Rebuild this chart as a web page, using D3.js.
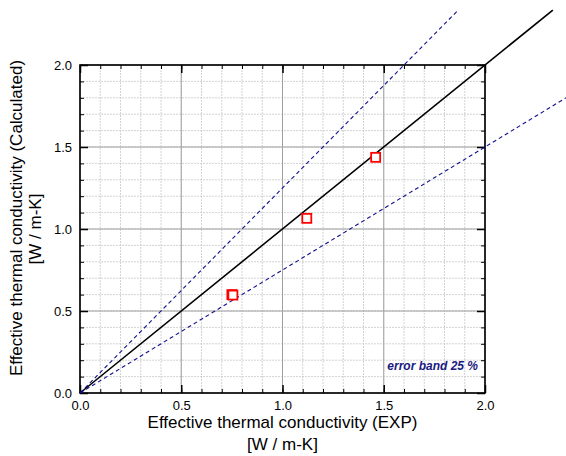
<!DOCTYPE html>
<html>
<head>
<meta charset="utf-8">
<script src="https://cdn.jsdelivr.net/npm/d3@7"></script>
<style>
  body { margin: 0; background: #fff; }
  text { font-family: "Liberation Sans", Arial, sans-serif; }
</style>
</head>
<body>
<div id="chart"></div>
<script>
// measured points (EXP vs calculated)
const expValues = [0.75, 0.755, 1.12, 1.46];
const calcValues = [0.60, 0.597, 1.065, 1.437];
const majorTicks = [0, 0.5, 1.0, 1.5, 2.0];
const parityLines = [
  { slope: 1.0, xEnd: 2.335, dashed: false },
  { slope: 1.25, xEnd: 1.868, dashed: true },
  { slope: 0.75, xEnd: 3.11, dashed: true },
];

const width = 566;
const height = 456;
const margin = { left: 80, right: 81, top: 65, bottom: 63 };
const plotW = width - margin.left - margin.right;
const plotH = height - margin.top - margin.bottom;

const svg = d3
  .select("#chart")
  .append("svg")
  .attr("width", width)
  .attr("height", height);

const x = d3.scaleLinear().domain([0, 2]).range([margin.left, margin.left + plotW]);
const y = d3.scaleLinear().domain([0, 2]).range([margin.top + plotH, margin.top]);

const minorTicks = d3.range(0, 2.0001, 0.1).map((d) => +d.toFixed(1));

// minor grid
const grid = svg.append("g");
minorTicks.forEach((t) => {
  grid.append("line")
    .attr("x1", x(t)).attr("x2", x(t))
    .attr("y1", y(0)).attr("y2", y(2))
    .attr("stroke", "#c8c8c8").attr("stroke-dasharray", "2,1").attr("stroke-width", 0.8);
  grid.append("line")
    .attr("y1", y(t)).attr("y2", y(t))
    .attr("x1", x(0)).attr("x2", x(2))
    .attr("stroke", "#c8c8c8").attr("stroke-dasharray", "2,1").attr("stroke-width", 0.8);
});
// major grid
majorTicks.forEach((t) => {
  grid.append("line")
    .attr("x1", x(t)).attr("x2", x(t))
    .attr("y1", y(0)).attr("y2", y(2))
    .attr("stroke", "#a0a0a0").attr("stroke-width", 1);
  grid.append("line")
    .attr("y1", y(t)).attr("y2", y(t))
    .attr("x1", x(0)).attr("x2", x(2))
    .attr("stroke", "#a0a0a0").attr("stroke-width", 1);
});

// axes with inward ticks on all four sides
function addAxis(axisFn, scale, transform, labels) {
  const g = svg.append("g").attr("transform", transform);
  g.call(axisFn(scale).tickValues(minorTicks).tickSize(-4).tickFormat(""));
  g.select(".domain").remove();
  g.selectAll(".tick line").attr("stroke-width", 1);
  const g2 = svg.append("g").attr("transform", transform);
  g2.call(
    axisFn(scale).tickValues(majorTicks).tickSize(-8).tickPadding(8)
      .tickFormat(labels ? d3.format(".1f") : "")
  );
  g2.select(".domain").remove();
  g2.selectAll(".tick line").attr("stroke-width", 1.5);
  g2.selectAll("text").attr("font-size", 13).attr("fill", "#000")
    .style("font-family", '"Liberation Sans", Arial, sans-serif');
}
addAxis(d3.axisBottom, x, `translate(0,${y(0)})`, true);
addAxis(d3.axisTop, x, `translate(0,${y(2)})`, false);
addAxis(d3.axisLeft, y, `translate(${x(0)},0)`, true);
addAxis(d3.axisRight, y, `translate(${x(2)},0)`, false);

svg.append("rect")
  .attr("x", x(0)).attr("y", y(2))
  .attr("width", plotW).attr("height", plotH)
  .attr("fill", "none").attr("stroke", "#000").attr("stroke-width", 1.6);

// parity and error band lines
parityLines.forEach((l) => {
  svg.append("line")
    .attr("x1", x(0)).attr("y1", y(0))
    .attr("x2", x(l.xEnd)).attr("y2", y(l.slope * l.xEnd))
    .attr("stroke", l.dashed ? "#10108f" : "#000")
    .attr("stroke-width", l.dashed ? 1.1 : 1.6)
    .attr("stroke-dasharray", l.dashed ? "4,3" : null);
});

// data points
svg.append("g")
  .selectAll("rect")
  .data(expValues.map((d, i) => [d, calcValues[i]]))
  .join("rect")
  .attr("x", (d) => x(d[0]) - 4.5)
  .attr("y", (d) => y(d[1]) - 4.5)
  .attr("width", 9)
  .attr("height", 9)
  .attr("fill", "#fff")
  .attr("stroke", "#ff0000")
  .attr("stroke-width", 1.8);

svg.append("text")
  .attr("x", x(2) - 7).attr("y", y(0.14))
  .attr("text-anchor", "end")
  .attr("font-size", 12).attr("font-weight", "bold").attr("font-style", "italic")
  .attr("fill", "#1a1a80")
  .text("error band 25 %");

// axis titles
const xc = margin.left + plotW / 2;
svg.append("text").attr("x", xc).attr("y", 428).attr("text-anchor", "middle")
  .attr("font-size", 17).text("Effective thermal conductivity (EXP)");
svg.append("text").attr("x", xc).attr("y", 450).attr("text-anchor", "middle")
  .attr("font-size", 17).text("[W / m-K]");

svg.append("text").attr("transform", `translate(22,218) rotate(-90)`)
  .attr("text-anchor", "middle").attr("font-size", 17)
  .text("Effective thermal conductivity (Calculated)");
svg.append("text").attr("transform", `translate(41,229) rotate(-90)`)
  .attr("text-anchor", "middle").attr("font-size", 17)
  .text("[W / m-K]");
</script>
</body>
</html>
